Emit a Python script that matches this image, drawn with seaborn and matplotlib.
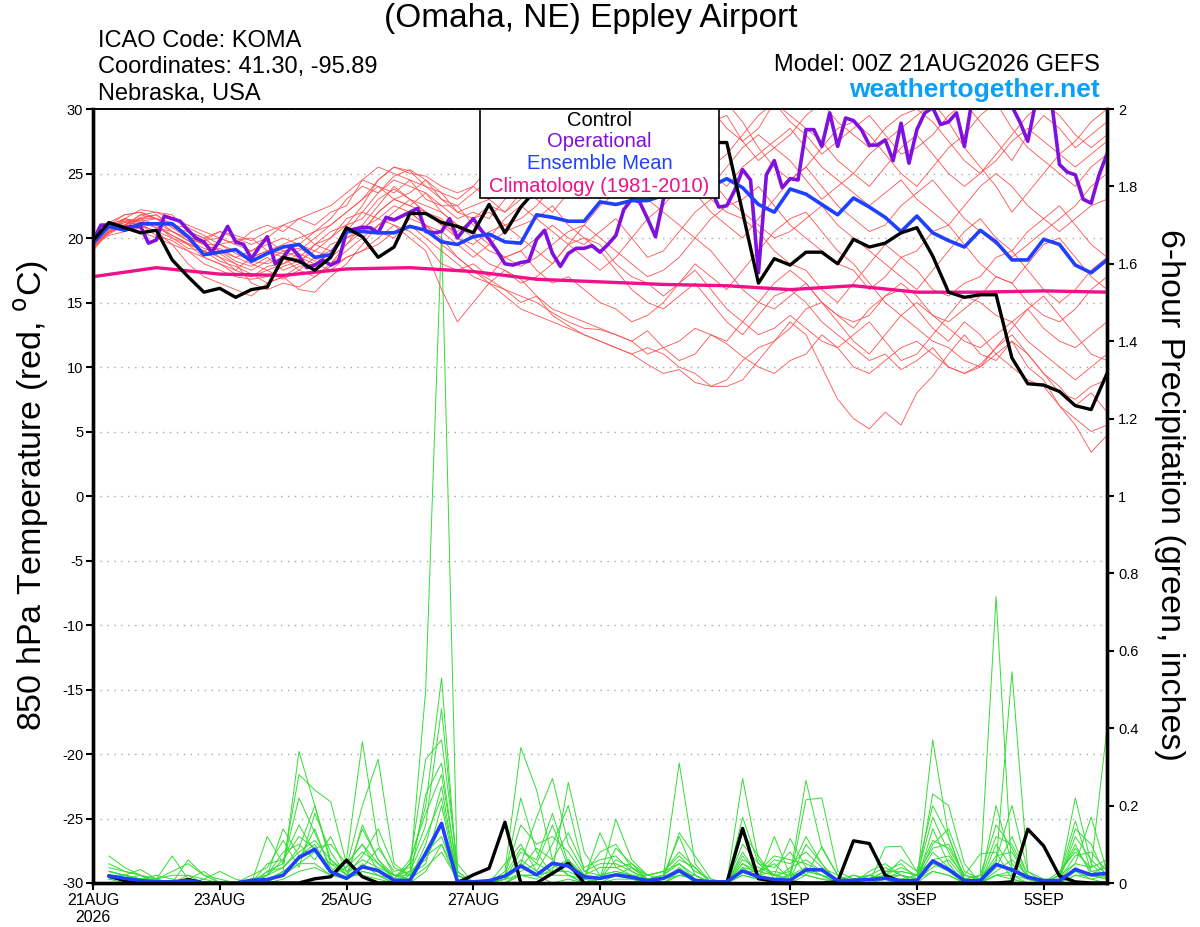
import numpy as np
import pandas as pd
import matplotlib
matplotlib.use("Agg")
import matplotlib.pyplot as plt
import seaborn as sns
from matplotlib.patches import Rectangle


# ================== DATA ==================
# GEFS 00Z 21AUG2026, 6-hourly out to 384 h (operational is 3-hourly)

tick_hours = [0, 48, 96, 144, 192, 264, 312, 360]
tick_labels = ["21AUG\n2026", "23AUG", "25AUG", "27AUG", "29AUG", "1SEP", "3SEP", "5SEP"]

# 850 hPa temperature (C)
control_temp = [19.8, 21.2, 20.8, 20.4, 20.6, 18.3, 17.0, 15.8, 16.1, 15.4, 16.0, 16.2,
                18.5, 18.2, 17.5, 18.5, 20.8, 20.1, 18.5, 19.3, 21.9, 21.9, 21.2, 20.9,
                20.4, 22.6, 20.4, 22.4, 23.8, 24.5, 25.5, 25.0, 26.0, 26.5, 25.8, 26.8,
                27.0, 26.5, 27.2, 27.4, 27.4, 22.0, 16.5, 18.4, 17.9, 18.9, 18.9, 18.0,
                19.9, 19.3, 19.6, 20.4, 20.8, 18.6, 15.8, 15.4, 15.6, 15.6, 10.7, 8.7,
                8.6, 8.1, 7.0, 6.7, 9.5]

mean_temp = [19.6, 20.9, 20.6, 21.1, 21.1, 21.1, 20.1, 18.7, 18.9, 19.1, 18.2, 18.8,
             19.3, 19.5, 18.5, 18.7, 20.5, 20.5, 20.4, 20.4, 20.9, 20.6, 19.7, 19.5,
             20.1, 20.3, 19.7, 19.6, 21.8, 21.6, 21.3, 21.3, 22.8, 22.6, 22.9, 22.9,
             23.3, 23.3, 23.5, 24.0, 24.6, 23.9, 22.6, 22.0, 23.8, 23.4, 22.6, 21.8,
             23.1, 22.4, 21.6, 20.5, 21.7, 20.4, 19.8, 19.3, 20.6, 19.7, 18.3, 18.3,
             19.9, 19.5, 17.9, 17.3, 18.3]

oper_temp = [19.8, 21.0, 21.0, 20.9, 20.8, 20.9, 20.9, 19.6,
             19.85, 21.7, 21.5, 21.3, 20.6, 20.0, 19.7, 18.9,
             19.8, 20.9, 19.7, 19.5, 18.4, 19.3, 20.1, 18.0,
             18.5, 19.3, 18.6, 17.7, 17.9, 18.3, 17.9, 18.2,
             20.5, 20.7, 20.8, 20.8, 20.4, 21.6, 21.4, 21.7,
             22.0, 22.3, 20.5, 20.4, 20.5, 21.5, 20.0, 20.8,
             21.5, 20.6, 19.9, 19.0, 18.0, 17.9, 18.1, 18.2,
             19.9, 20.6, 18.8, 17.8, 18.8, 19.2, 19.2, 19.4,
             18.9, 19.5, 20.2, 22.2, 23.0, 22.8, 21.5, 20.1,
             23.0, 24.0, 25.0, 24.5, 25.5, 24.8, 23.8, 22.4,
             22.5, 23.7, 25.3, 24.5, 17.3, 24.9, 26.0, 23.9,
             24.6, 24.5, 28.4, 28.4, 27.1, 29.7, 27.1, 29.3,
             29.1, 28.4, 27.2, 27.2, 27.6, 26.0, 28.9, 25.8,
             28.4, 29.7, 30.1, 28.8, 29.0, 29.7, 27.1, 30.8,
             31.0, 31.5, 31.2, 31.0, 30.2, 29.0, 27.5, 30.5,
             31.0, 30.6, 25.7, 25.1, 24.9, 23.0, 22.7, 24.9,
             26.5]

# daily climatology (1981-2010)
clim_temp = [17.0, 17.7, 17.2, 17.1, 17.6, 17.7, 17.4, 16.8, 16.6,
             16.4, 16.3, 16.0, 16.3, 15.8, 15.8, 15.9, 15.8]

# ensemble members, temperature
m01 = [19.5, 20.8, 21.2, 21.0, 20.5, 20.0, 19.2, 19.0, 19.5, 19.0, 18.5, 19.0, 18.8, 19.5, 19.0, 20.0,
       21.5, 22.0, 23.5, 24.8, 25.3, 24.5, 23.0, 22.0, 21.5, 22.5, 22.0, 23.5, 24.0, 25.0, 24.0, 26.0,
       26.5, 27.0, 26.0, 27.5, 28.0, 28.5, 27.0, 29.0, 29.5, 27.5, 28.5, 30.5, 29.0, 28.0, 26.5, 27.5,
       28.5, 29.5, 28.0, 26.5, 27.0, 28.0, 29.5, 30.5, 29.0, 27.5, 26.0, 28.0, 29.5, 28.5, 27.0, 28.0, 29.0]
m02 = [19.8, 21.0, 21.5, 21.2, 21.0, 20.2, 19.5, 18.5, 18.0, 17.2, 17.0, 17.5, 16.8, 17.5, 18.5, 18.0,
       19.5, 21.0, 20.5, 20.0, 21.5, 21.0, 20.0, 18.5, 17.5, 16.8, 16.0, 15.5, 15.0, 14.2, 13.5, 13.0,
       12.9, 12.5, 12.0, 12.8, 11.5, 10.5, 11.0, 12.5, 11.8, 10.8, 10.0, 9.5, 10.5, 11.0, 12.5, 11.5,
       10.0, 9.5, 10.5, 11.5, 12.0, 11.0, 10.0, 9.5, 10.2, 11.5, 12.5, 11.0, 9.5, 8.0, 7.5, 8.5, 9.0]
m03 = [19.2, 20.5, 20.8, 21.5, 21.8, 21.0, 20.0, 19.5, 18.5, 18.0, 16.5, 16.0, 16.5, 16.2, 17.0, 17.8,
       18.5, 19.0, 19.5, 20.5, 21.0, 20.0, 19.0, 18.0, 17.0, 16.5, 17.5, 16.8, 15.5, 14.0, 13.2, 12.5,
       12.0, 11.5, 11.0, 10.2, 9.5, 9.8, 8.8, 8.5, 9.0, 10.5, 11.5, 12.0, 13.5, 12.5, 10.0, 7.5,
       6.0, 5.2, 6.5, 5.5, 8.0, 9.3, 11.0, 12.5, 11.0, 10.5, 12.0, 10.0, 9.0, 7.0, 6.0, 5.0, 5.5]
m04 = [19.6, 21.2, 21.8, 22.0, 21.5, 20.8, 20.5, 20.0, 19.0, 18.2, 17.8, 18.5, 17.5, 18.0, 19.5, 19.0,
       20.0, 20.5, 22.0, 23.0, 22.5, 23.5, 22.0, 21.0, 20.0, 19.0, 18.5, 17.8, 18.5, 19.5, 20.5, 21.0,
       20.0, 19.0, 18.0, 17.0, 17.5, 18.5, 20.0, 19.0, 17.5, 16.0, 15.0, 14.5, 15.5, 16.5, 15.0, 14.0,
       13.0, 14.5, 15.5, 16.0, 14.5, 13.0, 12.0, 13.5, 12.5, 11.0, 10.0, 9.0, 8.5, 7.0, 5.5, 3.4, 4.7]
m05 = [19.5, 20.5, 21.0, 21.8, 22.0, 21.5, 21.0, 20.5, 20.0, 19.5, 20.5, 21.0, 20.5, 21.5, 21.0, 22.0,
       22.5, 24.5, 25.5, 25.0, 24.5, 24.0, 23.5, 22.0, 22.5, 23.0, 24.0, 24.5, 25.5, 26.5, 27.0, 28.5,
       29.5, 30.5, 29.0, 28.0, 27.5, 26.0, 25.0, 24.0, 25.5, 27.0, 28.0, 27.0, 26.0, 24.5, 23.0, 24.0,
       25.0, 26.5, 27.5, 28.5, 29.5, 30.5, 29.0, 27.0, 25.5, 24.0, 22.0, 23.5, 25.0, 26.5, 27.5, 29.0, 30.0]
m06 = [19.4, 20.2, 20.5, 20.8, 21.2, 20.5, 19.8, 18.8, 19.2, 18.5, 19.0, 19.8, 19.0, 18.5, 18.0, 18.8,
       20.5, 21.0, 22.5, 24.0, 23.0, 22.0, 21.5, 20.0, 19.5, 20.5, 21.0, 20.0, 19.0, 18.0, 19.5, 21.0,
       22.5, 23.5, 24.5, 23.0, 22.0, 21.0, 20.0, 21.5, 22.5, 23.0, 24.0, 22.5, 21.0, 20.0, 19.0, 18.0,
       17.5, 16.0, 17.0, 18.5, 19.0, 20.5, 21.0, 19.5, 18.0, 17.0, 16.5, 18.0, 19.5, 20.0, 18.5, 17.0, 16.0]
m07 = [19.0, 20.5, 21.5, 21.0, 20.5, 19.5, 18.0, 17.0, 16.5, 16.0, 15.5, 16.5, 17.0, 16.0, 15.8, 17.0,
       18.0, 19.5, 21.0, 22.0, 23.0, 22.5, 22.0, 21.0, 20.5, 19.5, 18.5, 19.0, 17.5, 16.5, 17.0, 16.0,
       15.0, 14.5, 13.5, 14.0, 15.0, 16.5, 18.0, 17.0, 16.0, 17.5, 19.0, 20.5, 21.5, 22.0, 20.5, 19.0,
       18.0, 16.5, 15.0, 14.0, 13.0, 12.0, 11.5, 10.5, 10.0, 11.5, 13.0, 14.5, 15.5, 14.0, 12.5, 11.0, 10.5]
m08 = [19.8, 21.0, 21.5, 22.2, 22.0, 21.8, 20.5, 20.0, 20.5, 20.0, 19.5, 20.0, 21.0, 20.5, 19.5, 20.5,
       21.0, 22.5, 24.5, 25.5, 25.0, 24.8, 24.0, 23.5, 24.0, 23.0, 22.0, 23.0, 24.5, 23.5, 25.0, 26.0,
       27.0, 28.5, 29.5, 31.0, 30.0, 29.0, 28.0, 29.5, 30.5, 29.0, 27.0, 25.5, 24.5, 25.5, 27.0, 28.5,
       29.0, 28.0, 26.5, 25.0, 24.0, 25.5, 27.0, 28.0, 29.5, 30.5, 28.5, 27.0, 26.0, 25.0, 24.0, 25.5, 26.5]
m09 = [19.3, 20.5, 21.2, 21.5, 21.0, 20.0, 19.5, 19.0, 18.5, 17.5, 17.0, 17.8, 18.0, 18.8, 18.2, 19.5,
       20.0, 20.8, 21.5, 22.5, 22.0, 21.0, 20.5, 19.5, 18.5, 19.5, 20.5, 21.0, 21.5, 22.5, 21.0, 20.0,
       19.5, 18.0, 17.0, 16.5, 15.5, 16.5, 17.5, 16.0, 14.5, 13.5, 12.5, 13.0, 14.0, 13.0, 12.0, 11.5,
       12.5, 13.5, 12.0, 10.5, 11.0, 12.5, 14.0, 15.5, 15.0, 14.0, 13.5, 14.5, 13.0, 12.0, 11.5, 12.5, 13.5]
m10 = [19.7, 21.0, 21.0, 21.8, 21.5, 21.0, 20.8, 20.2, 19.5, 18.8, 18.2, 18.0, 18.5, 19.0, 20.0, 21.0,
       22.0, 23.0, 24.0, 23.5, 24.5, 23.0, 22.5, 21.5, 22.0, 21.5, 23.0, 24.0, 23.0, 22.0, 23.5, 24.5,
       25.5, 24.0, 23.0, 24.5, 26.0, 27.0, 26.5, 25.0, 24.0, 25.5, 26.5, 27.5, 28.5, 27.0, 25.5, 24.5,
       23.5, 22.5, 23.5, 24.5, 23.0, 22.0, 21.0, 22.5, 24.0, 25.0, 24.0, 22.5, 21.5, 20.5, 21.5, 22.5, 23.0]
m11 = [19.5, 20.8, 21.0, 20.5, 20.0, 19.5, 19.0, 18.5, 18.0, 17.5, 18.5, 19.0, 18.5, 17.5, 17.0, 18.0,
       19.0, 20.0, 21.0, 21.5, 22.0, 21.0, 19.5, 18.5, 17.5, 16.5, 15.5, 14.5, 14.0, 13.5, 13.0, 12.5,
       12.0, 11.5, 11.0, 11.5, 11.0, 10.0, 9.5, 8.5, 8.5, 9.0, 10.5, 12.0, 13.0, 14.5, 15.0, 13.5,
       12.0, 11.0, 12.5, 14.0, 15.0, 14.0, 13.5, 14.5, 15.5, 17.0, 16.5, 15.0, 14.0, 13.5, 14.5, 16.0, 17.0]
m12 = [19.6, 21.2, 20.8, 21.5, 21.5, 21.2, 20.2, 19.5, 19.5, 19.8, 20.0, 19.0, 19.5, 20.0, 20.5, 21.5,
       23.0, 24.0, 23.5, 24.5, 24.0, 23.5, 22.5, 22.5, 23.5, 24.5, 25.0, 26.0, 26.5, 27.5, 28.0, 27.5,
       28.0, 29.0, 30.0, 29.5, 29.0, 30.0, 31.0, 30.0, 28.5, 27.5, 26.0, 27.0, 28.0, 29.5, 30.5, 29.0,
       28.0, 27.0, 28.5, 29.5, 30.0, 29.0, 27.5, 26.0, 25.0, 26.5, 28.0, 29.5, 30.5, 29.5, 28.0, 27.0, 28.0]
m13 = [19.4, 20.6, 21.4, 21.2, 20.8, 20.5, 19.8, 19.2, 18.8, 18.0, 17.5, 18.2, 19.0, 19.2, 18.5, 19.0,
       20.5, 22.0, 21.5, 21.0, 20.5, 19.5, 18.0, 17.5, 18.0, 17.0, 18.5, 19.0, 20.0, 21.0, 20.0, 19.5,
       20.5, 21.5, 20.0, 18.5, 19.0, 20.5, 22.0, 23.0, 22.0, 21.5, 20.5, 19.0, 18.0, 17.5, 16.0, 15.0,
       16.5, 18.0, 19.5, 18.5, 17.5, 16.0, 15.5, 16.5, 17.0, 18.5, 19.0, 17.5, 16.0, 15.0, 16.0, 17.5, 18.5]
m14 = [19.9, 21.0, 21.8, 22.0, 21.5, 21.0, 20.0, 19.8, 20.0, 19.5, 19.0, 19.5, 20.0, 19.5, 20.5, 21.0,
       22.0, 23.0, 24.5, 25.5, 25.2, 24.0, 23.0, 22.5, 21.0, 20.0, 21.5, 22.5, 21.5, 20.5, 19.5, 18.5,
       17.5, 18.5, 20.0, 21.5, 22.5, 24.0, 25.0, 24.5, 23.0, 22.0, 21.0, 20.0, 20.5, 21.5, 22.5, 21.0,
       20.0, 19.0, 18.0, 17.0, 16.0, 17.5, 19.0, 20.5, 21.5, 20.0, 19.0, 20.5, 21.5, 22.5, 21.0, 19.5, 18.5]
m15 = [19.2, 20.4, 21.0, 21.6, 21.8, 20.8, 20.0, 19.5, 19.0, 18.5, 18.0, 17.5, 18.0, 18.5, 19.5, 20.0,
       21.0, 21.5, 23.0, 23.8, 23.0, 22.0, 21.0, 20.5, 21.5, 22.0, 21.0, 21.5, 22.5, 24.0, 25.0, 24.0,
       23.0, 24.5, 26.0, 27.0, 26.0, 24.5, 23.5, 22.0, 21.0, 20.0, 21.5, 23.0, 24.5, 25.5, 24.0, 22.5,
       21.5, 20.5, 21.0, 22.5, 23.5, 24.5, 23.0, 21.5, 20.5, 19.5, 18.5, 19.5, 20.5, 21.5, 22.5, 24.0, 25.0]
m16 = [19.5, 20.9, 21.3, 21.0, 20.2, 19.8, 19.0, 18.0, 17.5, 17.0, 16.8, 17.0, 17.8, 18.2, 19.0, 18.5,
       19.5, 20.5, 22.0, 23.0, 22.5, 22.0, 21.0, 20.0, 19.0, 18.0, 17.5, 16.5, 17.0, 18.0, 19.5, 20.0,
       19.0, 17.5, 16.0, 15.0, 14.5, 15.5, 16.5, 15.0, 13.5, 12.5, 14.0, 15.5, 16.0, 15.0, 13.5, 12.5,
       11.5, 10.5, 11.0, 9.8, 10.5, 11.5, 10.0, 9.5, 10.0, 11.0, 12.0, 11.0, 9.5, 8.5, 7.0, 8.0, 6.5]
m17 = [19.8, 20.7, 21.5, 21.3, 21.5, 20.5, 20.0, 19.8, 20.5, 20.2, 19.8, 20.5, 21.0, 21.5, 22.0, 22.5,
       23.5, 24.5, 24.0, 23.0, 23.5, 24.5, 23.5, 23.0, 24.0, 25.5, 26.5, 27.5, 28.5, 29.5, 30.5, 29.0,
       28.5, 27.5, 28.0, 29.0, 27.5, 26.0, 24.5, 25.5, 26.5, 28.0, 29.5, 30.5, 29.5, 28.5, 27.5, 26.0,
       25.0, 24.0, 25.5, 27.0, 28.0, 26.5, 25.0, 24.0, 25.0, 26.0, 27.5, 28.5, 27.5, 26.5, 25.5, 26.5, 27.5]
m18 = [19.6, 20.3, 21.0, 21.4, 20.8, 20.2, 19.6, 19.0, 18.2, 17.8, 17.2, 16.5, 17.0, 17.8, 18.0, 17.5,
       18.5, 19.0, 20.0, 21.0, 20.0, 19.0, 16.0, 13.5, 15.0, 16.5, 16.0, 15.0, 15.5, 14.5, 14.0, 13.5,
       13.0, 12.5, 12.0, 11.0, 11.5, 12.0, 13.0, 12.5, 12.0, 13.5, 15.0, 16.5, 17.5, 16.5, 15.0, 14.0,
       13.5, 14.0, 15.5, 16.5, 15.5, 14.0, 13.0, 12.0, 11.5, 12.5, 13.5, 12.0, 11.0, 10.0, 9.0, 10.0, 11.0]

# 6-hour precipitation (inches), first value valid at +6 h
control_precip = [0.018, 0.006, 0, 0, 0, 0.009, 0, 0,
                  0, 0, 0, 0, 0, 0.011, 0.016, 0.059,
                  0.016, 0, 0, 0, 0, 0, 0, 0.021,
                  0.038, 0.157, 0, 0, 0.025, 0.051, 0, 0,
                  0, 0, 0, 0, 0, 0, 0, 0,
                  0.141, 0.011, 0.005, 0.002, 0, 0, 0.003, 0.109,
                  0.102, 0.02, 0.003, 0, 0, 0, 0, 0,
                  0, 0.003, 0.139, 0.096, 0.018, 0.003, 0, 0]

mean_precip = [0.018, 0.012, 0.006, 0.003, 0.003, 0.006, 0, 0,
               0, 0.007, 0.009, 0.02, 0.066, 0.087, 0.029, 0.012,
               0.042, 0.032, 0.007, 0.006, 0.077, 0.154, 0.003, 0.003,
               0.006, 0.018, 0.044, 0.021, 0.051, 0.044, 0.016, 0.012,
               0.021, 0.015, 0.006, 0.012, 0.032, 0.007, 0.003, 0.003,
               0.031, 0.016, 0.009, 0.007, 0.034, 0.034, 0.006, 0.007,
               0.009, 0.012, 0.006, 0.006, 0.057, 0.035, 0.006, 0.006,
               0.048, 0.034, 0.015, 0.006, 0.006, 0.035, 0.021, 0.025]

p01 = [0.02, 0.01, 0, 0, 0, 0, 0, 0, 0, 0, 0.01, 0.02, 0.05, 0.08, 0.03, 0.01,
       0.05, 0.02, 0, 0.02, 0.5, 1.68, 0.02, 0, 0, 0.01, 0.05, 0.02, 0, 0.01, 0, 0,
       0.02, 0.01, 0, 0, 0.03, 0, 0, 0, 0.05, 0.02, 0, 0, 0.02, 0.01, 0, 0,
       0, 0, 0.01, 0, 0.03, 0.02, 0, 0, 0.02, 0.01, 0, 0, 0, 0.03, 0.01, 0]
p02 = [0.07, 0.04, 0.02, 0.01, 0.07, 0.01, 0, 0, 0, 0, 0, 0.03, 0.34, 0.2, 0.05, 0.02,
       0.02, 0.01, 0, 0.05, 0.2, 0.53, 0.01, 0, 0, 0.01, 0.02, 0.02, 0.05, 0.02, 0, 0.01,
       0.165, 0.06, 0.02, 0.03, 0.05, 0.02, 0, 0, 0.04, 0.01, 0, 0.02, 0.04, 0.02, 0, 0,
       0, 0.01, 0, 0, 0.14, 0.05, 0, 0, 0.02, 0.02, 0.01, 0, 0, 0.04, 0.02, 0.01]
p03 = [0.03, 0.02, 0.035, 0.01, 0, 0.06, 0.02, 0, 0, 0, 0.12, 0.05, 0.28, 0.24, 0.21, 0.05,
       0.1, 0.03, 0.01, 0.05, 0.32, 0.37, 0.05, 0, 0, 0.02, 0.22, 0.08, 0.02, 0.06, 0.02, 0.01,
       0.06, 0.04, 0.02, 0.01, 0.13, 0.07, 0.01, 0, 0.27, 0.06, 0.02, 0.01, 0.03, 0.02, 0, 0.01,
       0.02, 0.01, 0, 0, 0.23, 0.2, 0.05, 0, 0.2, 0.05, 0.01, 0, 0.02, 0.16, 0.03, 0.04]
p04 = [0.04, 0.03, 0.02, 0, 0, 0.01, 0.03, 0, 0, 0, 0.02, 0.14, 0.07, 0.1, 0.03, 0.06,
       0.365, 0.1, 0.02, 0.01, 0.23, 0.31, 0.02, 0, 0, 0.03, 0.35, 0.24, 0.06, 0.02, 0.01, 0.02,
       0.03, 0.02, 0.01, 0.02, 0.31, 0.05, 0, 0, 0.02, 0.01, 0.12, 0.02, 0.265, 0.09, 0.02, 0,
       0.01, 0.02, 0.02, 0, 0.37, 0.12, 0.01, 0.02, 0.74, 0.02, 0, 0, 0.01, 0.22, 0.05, 0.01]
p05 = [0.02, 0.01, 0, 0, 0, 0, 0.01, 0.03, 0.01, 0, 0.05, 0.06, 0.15, 0.08, 0.05, 0.04,
       0.2, 0.32, 0.05, 0.02, 0.05, 0.2, 0.01, 0, 0, 0.01, 0.05, 0.17, 0.27, 0.1, 0.03, 0.05,
       0.05, 0.03, 0.01, 0, 0.02, 0.02, 0, 0, 0.17, 0.05, 0.02, 0.115, 0.04, 0.02, 0.01, 0,
       0, 0.093, 0.095, 0.03, 0.05, 0.03, 0, 0.02, 0.05, 0.546, 0.03, 0, 0.02, 0.05, 0.17, 0.03]
p06 = [0.01, 0.02, 0.01, 0.02, 0.01, 0, 0, 0, 0, 0.01, 0.02, 0.08, 0.1, 0.06, 0.12, 0.03,
       0.06, 0.04, 0.02, 0.02, 0.08, 0.12, 0.01, 0, 0, 0, 0.03, 0.05, 0.03, 0.26, 0.08, 0.02,
       0.02, 0.01, 0.01, 0.02, 0.05, 0.01, 0, 0, 0.03, 0.03, 0.05, 0.01, 0.215, 0.22, 0.03, 0.01,
       0.02, 0.01, 0.01, 0.02, 0.06, 0.07, 0.02, 0.075, 0.08, 0.01, 0, 0, 0.03, 0.08, 0.04, 0.4]
p07 = [0, 0, 0.01, 0, 0, 0, 0, 0, 0, 0.02, 0.04, 0.11, 0.04, 0.18, 0.08, 0.02,
       0.14, 0.06, 0.01, 0.06, 0.18, 0.28, 0.03, 0, 0, 0.02, 0.09, 0.05, 0.15, 0.04, 0.01, 0.13,
       0.04, 0.02, 0, 0.01, 0.02, 0.01, 0, 0, 0.1, 0.05, 0.04, 0.08, 0.02, 0.094, 0.02, 0,
       0.03, 0.05, 0.02, 0.01, 0.1, 0.14, 0.03, 0.01, 0.12, 0.1, 0.02, 0, 0.01, 0.12, 0.06, 0.02]
p08 = [0.03, 0.02, 0.01, 0.01, 0, 0, 0, 0, 0, 0, 0.03, 0.05, 0.22, 0.13, 0.04, 0.01,
       0.03, 0.02, 0, 0.03, 0.12, 0.22, 0.02, 0, 0, 0.05, 0.1, 0.03, 0.02, 0.02, 0, 0.01,
       0.09, 0.05, 0.02, 0.03, 0.07, 0.03, 0.01, 0, 0.08, 0.02, 0.03, 0.02, 0.02, 0.01, 0.01, 0.02,
       0.01, 0.02, 0.04, 0.02, 0.17, 0.08, 0.01, 0.02, 0.15, 0.09, 0.01, 0, 0.02, 0.1, 0.02, 0.05]
p09 = [0.02, 0.01, 0, 0, 0, 0, 0, 0, 0, 0, 0.01, 0.02, 0.05, 0.05, 0.02, 0.04,
       0.08, 0.05, 0.01, 0, 0.03, 0.1, 0, 0, 0, 0, 0.02, 0.01, 0.04, 0.06, 0.01, 0.01,
       0.02, 0.04, 0.01, 0.02, 0.12, 0.02, 0, 0, 0.06, 0.04, 0.02, 0.01, 0.1, 0.05, 0, 0,
       0.01, 0.03, 0.05, 0.01, 0.08, 0.04, 0, 0, 0.03, 0.06, 0.02, 0, 0, 0.02, 0.01, 0.02]
p10 = [0.01, 0.01, 0.02, 0, 0, 0.02, 0.01, 0, 0, 0.01, 0.02, 0.04, 0.09, 0.2, 0.06, 0.03,
       0.04, 0.09, 0.03, 0.04, 0.15, 0.45, 0.03, 0, 0, 0.01, 0.04, 0.09, 0.06, 0.13, 0.04, 0.06,
       0.07, 0.03, 0.01, 0.01, 0.04, 0.01, 0, 0, 0.13, 0.07, 0.01, 0.04, 0.06, 0.03, 0.01, 0,
       0.02, 0.01, 0.03, 0.02, 0.11, 0.09, 0.02, 0.01, 0.06, 0.2, 0.03, 0.01, 0.01, 0.07, 0.08, 0.03]
p11 = [0.02, 0.02, 0.01, 0, 0, 0, 0, 0, 0, 0, 0.02, 0.06, 0.12, 0.09, 0.1, 0.05,
       0.1, 0.05, 0.02, 0.03, 0.06, 0.15, 0.02, 0, 0, 0.02, 0.15, 0.1, 0.12, 0.08, 0.02, 0.04,
       0.04, 0.05, 0.01, 0, 0.02, 0.02, 0, 0, 0.04, 0.03, 0.02, 0.03, 0.12, 0.05, 0, 0.01,
       0.01, 0.02, 0.06, 0.03, 0.2, 0.12, 0.01, 0, 0.1, 0.04, 0.01, 0, 0.01, 0.14, 0.1, 0.01]
p12 = [0.03, 0.02, 0.01, 0.01, 0.02, 0.02, 0, 0, 0, 0, 0.01, 0.03, 0.06, 0.14, 0.03, 0.01,
       0.15, 0.06, 0.02, 0.01, 0.1, 0.25, 0.01, 0, 0, 0.01, 0.06, 0.03, 0.1, 0.2, 0.03, 0.02,
       0.03, 0.02, 0.02, 0.03, 0.08, 0.04, 0, 0, 0.07, 0.02, 0.06, 0.05, 0.08, 0.04, 0.02, 0,
       0.02, 0.04, 0.02, 0.01, 0.04, 0.06, 0.01, 0, 0.04, 0.12, 0.02, 0, 0.01, 0.05, 0.04, 0.06]
p13 = [0.01, 0, 0, 0, 0, 0, 0, 0, 0, 0, 0, 0.01, 0.03, 0.04, 0.02, 0.01,
       0.03, 0.02, 0.01, 0.01, 0.04, 0.08, 0.01, 0, 0, 0, 0.02, 0.02, 0.03, 0.03, 0.01, 0,
       0.01, 0.01, 0, 0.01, 0.03, 0.01, 0, 0, 0.02, 0.01, 0.01, 0.02, 0.03, 0.02, 0, 0,
       0, 0.01, 0.02, 0.01, 0.03, 0.02, 0, 0, 0.02, 0.03, 0.01, 0, 0, 0.02, 0.02, 0.01]
p14 = [0.05, 0.03, 0.02, 0.01, 0.03, 0.05, 0.02, 0.01, 0, 0, 0.03, 0.04, 0.08, 0.11, 0.06, 0.02,
       0.07, 0.14, 0.04, 0.02, 0.07, 0.1, 0.02, 0, 0, 0.01, 0.08, 0.06, 0.18, 0.05, 0.02, 0.08,
       0.1, 0.04, 0.01, 0.02, 0.06, 0.04, 0, 0, 0.05, 0.03, 0.07, 0.06, 0.05, 0.03, 0, 0.02,
       0.01, 0.03, 0.03, 0.02, 0.09, 0.1, 0.02, 0.01, 0.07, 0.08, 0.01, 0, 0.02, 0.09, 0.03, 0.02]

temp_members = [m01, m02, m03, m04, m05, m06, m07, m08, m09,
                m10, m11, m12, m13, m14, m15, m16, m17, m18]
precip_members = [p01, p02, p03, p04, p05, p06, p07, p08, p09, p10, p11, p12, p13, p14]


# ================== TABLES ==================
hours6 = np.arange(len(control_temp)) * 6
hours3 = np.arange(len(oper_temp)) * 3
hours24 = np.arange(len(clim_temp)) * 24
precip_hours = (np.arange(len(control_precip)) + 1) * 6

temp_df = pd.DataFrame({
    "hour": np.concatenate([np.arange(len(m)) * 6 for m in temp_members]),
    "temp": np.concatenate(temp_members),
    "member": np.concatenate([[k] * len(m) for k, m in enumerate(temp_members)]),
})
precip_df = pd.DataFrame({
    "hour": np.concatenate([(np.arange(len(p)) + 1) * 6 for p in precip_members]),
    "precip": np.concatenate(precip_members),
    "member": np.concatenate([[k] * len(p) for k, p in enumerate(precip_members)]),
})


# ================== PLOT ==================
sns.set_theme(style="white")
plt.rcParams["font.family"] = ["Liberation Sans", "DejaVu Sans"]
plt.rcParams["axes.unicode_minus"] = False
plt.rcParams["text.color"] = "black"

W, H = 1200, 927
fig = plt.figure(figsize=(W / 100, H / 100), dpi=100)
ax = fig.add_axes([93 / W, 1 - 883 / H, 1014 / W, 774 / H])
ax2 = ax.twinx()
ax.set_zorder(ax2.get_zorder() + 1)
ax.patch.set_visible(False)

RED = "#ff5050"
GREEN = "#33dd33"
PURPLE = "#7f10dd"
BLUE = "#2040ff"
MAGENTA = "#f0108a"

# precipitation (right axis)
sns.lineplot(data=precip_df, x="hour", y="precip", units="member", estimator=None,
             color=GREEN, lw=0.7, ax=ax2, legend=False)
sns.lineplot(x=precip_hours, y=control_precip, color="black", lw=2.4, ax=ax2)
sns.lineplot(x=precip_hours, y=mean_precip, color=BLUE, lw=2.6, ax=ax2)

# temperature (left axis)
ax.grid(axis="y", color="#a8a8a8", lw=1.0, ls=(0, (1, 4)))
sns.lineplot(data=temp_df, x="hour", y="temp", units="member", estimator=None,
             color=RED, lw=0.6, ax=ax, legend=False)
sns.lineplot(x=hours24, y=clim_temp, color=MAGENTA, lw=2.4, ax=ax)
sns.lineplot(x=hours3, y=oper_temp, color=PURPLE, lw=2.6, ax=ax)
sns.lineplot(x=hours6, y=mean_temp, color=BLUE, lw=2.6, ax=ax)
sns.lineplot(x=hours6, y=control_temp, color="black", lw=2.4, ax=ax)

ax.set_xlim(0, 384)
ax.set_ylim(-30, 30)
ax2.set_ylim(0, 2)
ax.set_xticks(tick_hours)
ax.set_xticklabels(tick_labels, fontsize=11.5)
ax.set_yticks(np.arange(-30, 31, 5))
ax.set_yticklabels([str(v) for v in range(-30, 31, 5)], fontsize=10.5)
p_ticks = np.round(np.arange(0, 2.01, 0.2), 1)
ax2.set_yticks(p_ticks)
ax2.set_yticklabels([f"{v:g}" for v in p_ticks], fontsize=10.5)
ax.set_xlabel("")
ax.set_ylabel("")
ax2.set_ylabel("")
ax.tick_params(axis="both", bottom=True, left=True, direction="out", length=5,
               width=1.5, colors="black", pad=2)
ax2.tick_params(axis="y", right=True, direction="out", length=5, width=1.5,
                colors="black", pad=3)

for a in (ax, ax2):
    for side in ("left", "right", "bottom"):
        a.spines[side].set_linewidth(2.4)
        a.spines[side].set_color("black")
    a.spines["top"].set_linewidth(1.2)
    a.spines["top"].set_color("black")

# legend box
ax.add_patch(Rectangle((0.3817, 0.885), 0.2357, 0.115, transform=ax.transAxes,
                       facecolor="white", edgecolor="black", lw=1.2, zorder=20))
legend_items = [("Control", "black", 0.9845), ("Operational", PURPLE, 0.9574),
                ("Ensemble Mean", BLUE, 0.9302), ("Climatology (1981-2010)", MAGENTA, 0.9005)]
for label, col, ypos in legend_items:
    ax.text(0.4995, ypos, label, color=col, fontsize=14.5, ha="center", va="center",
            transform=ax.transAxes, zorder=21)

# header text
fig.text(591 / W, 1 - 19 / H, "(Omaha, NE) Eppley Airport", ha="center", va="center", fontsize=24)
fig.text(98 / W, 1 - 47 / H, "ICAO Code: KOMA", ha="left", va="baseline", fontsize=17)
fig.text(98 / W, 1 - 73.5 / H, "Coordinates: 41.30, -95.89", ha="left", va="baseline", fontsize=17)
fig.text(98 / W, 1 - 100 / H, "Nebraska, USA", ha="left", va="baseline", fontsize=17)
fig.text(1100 / W, 1 - 71 / H, "Model: 00Z 21AUG2026 GEFS", ha="right", va="baseline", fontsize=17)
fig.text(1100 / W, 1 - 97 / H, "weathertogether.net", ha="right", va="baseline",
         fontsize=19, fontweight="bold", color="#0aa0f5")

# axis titles
fig.text(32 / W, 1 - 495 / H, "850 hPa Temperature (red, $^{\\rm o}$C)", rotation=90,
         ha="center", va="center", fontsize=24.5)
fig.text(1170 / W, 1 - 495 / H, "6-hour Precipitation (green, inches)", rotation=270,
         ha="center", va="center", fontsize=24.5)

fig.savefig("out.png", dpi=100, facecolor="white")
